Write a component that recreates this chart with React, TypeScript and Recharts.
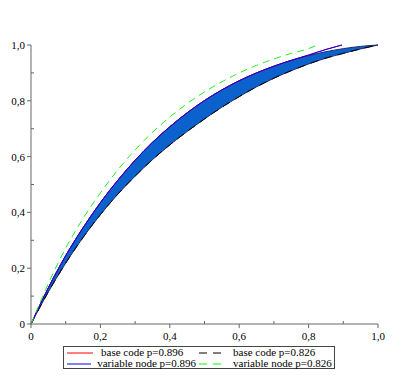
import { ComposedChart, Area, Line, XAxis, YAxis } from 'recharts';

const xs = [0, 0.05, 0.1, 0.15, 0.2, 0.25, 0.3, 0.35, 0.4, 0.45, 0.5, 0.55, 0.6, 0.65, 0.7, 0.75, 0.8, 0.85, 0.9, 0.95, 1];
const bandHigh = [0, 0.13, 0.245, 0.345, 0.435, 0.515, 0.587, 0.651, 0.707, 0.757, 0.801, 0.839, 0.872, 0.9, 0.924, 0.945, 0.962, 0.976, 0.987, 0.995, 1];
const bandLow = [0, 0.115, 0.218, 0.31, 0.392, 0.465, 0.53, 0.589, 0.642, 0.69, 0.735, 0.777, 0.815, 0.85, 0.881, 0.908, 0.932, 0.953, 0.97, 0.986, 1];

// p=0.896 curves (base code and variable node overlap)
const p896X = [0, 0.05, 0.1, 0.15, 0.2, 0.25, 0.3, 0.35, 0.4, 0.45, 0.5, 0.55, 0.6, 0.65, 0.7, 0.75, 0.8, 0.85, 0.896];
const p896Y = [0, 0.13, 0.245, 0.345, 0.435, 0.515, 0.587, 0.651, 0.707, 0.757, 0.801, 0.839, 0.872, 0.9, 0.924, 0.945, 0.964, 0.984, 1];

const greenX = [0, 0.05, 0.1, 0.15, 0.2, 0.25, 0.3, 0.35, 0.4, 0.45, 0.5, 0.55, 0.6, 0.65, 0.7, 0.75, 0.8, 0.826];
const greenY = [0, 0.145, 0.272, 0.378, 0.47, 0.552, 0.624, 0.687, 0.742, 0.79, 0.832, 0.868, 0.9, 0.927, 0.95, 0.97, 0.987, 1];

const ticks = [0, 0.1, 0.2, 0.3, 0.4, 0.5, 0.6, 0.7, 0.8, 0.9, 1];
const tickLabels = ['0', '', '0,2', '', '0,4', '', '0,6', '', '0,8', '', '1,0'];

const legendItems = [
  { name: 'base code p=0.896', color: '#ff0000', dash: '' },
  { name: 'base code p=0.826', color: '#000000', dash: '8 6' },
  { name: 'variable node p=0.896', color: '#0000ff', dash: '' },
  { name: 'variable node p=0.826', color: '#00ff00', dash: '8 6' },
];

const bandData = xs.map((x, i) => ({ x, range: [bandLow[i], bandHigh[i]] }));
const blackData = xs.map((x, i) => ({ x, y: bandLow[i] }));
const p896Data = p896X.map((x, i) => ({ x, y: p896Y[i] }));
const greenData = greenX.map((x, i) => ({ x, y: greenY[i] }));

const axisColor = '#666';
const font = 'Liberation Serif';

const labelFor = (v: number) => tickLabels[ticks.findIndex((t) => Math.abs(t - v) < 1e-6)];

const XTick = (props: any) => {
  const { x, y, payload } = props;
  const label = labelFor(payload.value);
  if (!label) return <line x1={x} y1={y} x2={x} y2={y - 3} stroke={axisColor} />;
  return (
    <g>
      <line x1={x} y1={y} x2={x} y2={y + 4} stroke={axisColor} />
      <text x={x} y={y + 16} textAnchor="middle" fontSize={11} fontFamily={font} fill="#000">
        {label}
      </text>
    </g>
  );
};

const YTick = (props: any) => {
  const { x, y, payload } = props;
  const label = labelFor(payload.value);
  if (!label) return <line x1={x} y1={y} x2={x + 3} y2={y} stroke={axisColor} />;
  return (
    <g>
      <line x1={x} y1={y} x2={x - 4} y2={y} stroke={axisColor} />
      <text x={x - 6} y={y + 4} textAnchor="end" fontSize={11} fontFamily={font} fill="#000">
        {label}
      </text>
    </g>
  );
};

const Legend = () => (
  <div
    style={{
      position: 'absolute',
      left: 55,
      top: 338,
      width: 270,
      height: 21,
      border: '1px solid #444',
      fontFamily: font,
      fontSize: 11,
      lineHeight: '11px',
      display: 'grid',
      gridTemplateColumns: '132px 138px',
    }}
  >
    {legendItems.map((it) => (
      <div key={it.name} style={{ display: 'flex', alignItems: 'center', height: 11, paddingLeft: 3 }}>
        <svg width={28} height={6} style={{ marginRight: 6 }}>
          <line x1={0} y1={3} x2={26} y2={3} stroke={it.color} strokeWidth={1} strokeDasharray={it.dash || undefined} />
        </svg>
        <span style={{ whiteSpace: 'nowrap' }}>{it.name}</span>
      </div>
    ))}
  </div>
);

export default function App() {
  return (
    <div style={{ position: 'relative', width: 386, height: 367 }}>
      <ComposedChart width={386} height={340} margin={{ top: 37, right: 16, left: 22, bottom: 23 }}>
        <XAxis
          type="number"
          dataKey="x"
          domain={[0, 1]}
          ticks={ticks}
          tick={<XTick />}
          tickLine={false}
          tickSize={0}
          tickMargin={0}
          height={1}
          stroke={axisColor}
          interval={0}
        />
        <YAxis
          type="number"
          domain={[0, 1]}
          ticks={ticks}
          tick={<YTick />}
          tickLine={false}
          tickSize={0}
          tickMargin={0}
          width={1}
          stroke={axisColor}
          interval={0}
        />
        <Area
          data={bandData}
          dataKey="range"
          type="monotone"
          fill="#0b62cc"
          fillOpacity={1}
          stroke="#1c2a66"
          strokeWidth={1}
          isAnimationActive={false}
        />
        <Line data={blackData} dataKey="y" type="monotone" stroke="#000" strokeDasharray="8 6" dot={false} isAnimationActive={false} />
        <Line data={p896Data} dataKey="y" type="monotone" stroke="#ff0000" dot={false} isAnimationActive={false} />
        <Line data={p896Data} dataKey="y" type="monotone" stroke="#0000ff" dot={false} isAnimationActive={false} />
        <Line data={greenData} dataKey="y" type="monotone" stroke="#22ee22" strokeDasharray="7 5" dot={false} isAnimationActive={false} />
      </ComposedChart>
      <Legend />
    </div>
  );
}
